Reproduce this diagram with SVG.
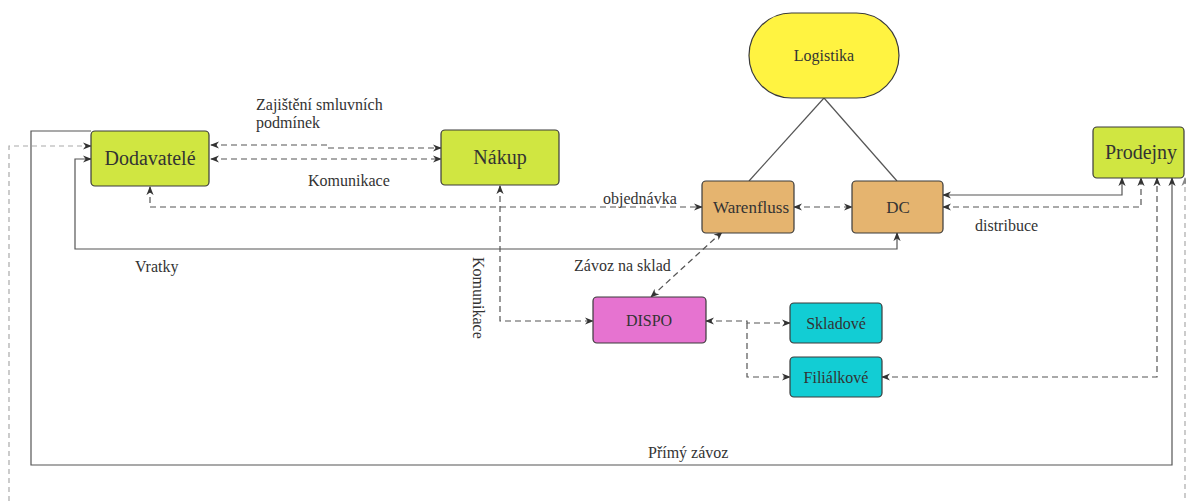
<svg xmlns="http://www.w3.org/2000/svg" width="1186" height="502" viewBox="0 0 1186 502">
<style>
.n{stroke:#3a3a3a;stroke-width:1.2}
.t{font-family:"Liberation Serif","Times New Roman",serif;fill:#333;text-anchor:middle}
.lbl{font-family:"Liberation Serif","Times New Roman",serif;fill:#333;font-size:16px}
.s{fill:none;stroke:#555;stroke-width:1.2}
.d{fill:none;stroke:#555;stroke-width:1.2;stroke-dasharray:6 4}
.l{fill:none;stroke:#aaa;stroke-width:1.2;stroke-dasharray:5 4}
</style>
<defs>
<marker id="a" viewBox="0 0 10 10" refX="9" refY="5" markerWidth="9" markerHeight="9" markerUnits="userSpaceOnUse" orient="auto-start-reverse">
<path d="M0,1 L10,5 L0,9 L3,5 z" fill="#333"/>
</marker>
<marker id="al" viewBox="0 0 10 10" refX="9" refY="5" markerWidth="9" markerHeight="9" markerUnits="userSpaceOnUse" orient="auto-start-reverse">
<path d="M0,1 L10,5 L0,9 L3,5 z" fill="#888"/>
</marker>
</defs>
<g id="connectors">
<path class="s" d="M824,98 L749,181"/>
<path class="s" d="M824,98 L897,181"/>
<path class="d" d="M211,145 L327,145 L327,148 L441,148" marker-start="url(#a)" marker-end="url(#a)"/>
<path class="d" d="M211,159 L441,159" marker-start="url(#a)" marker-end="url(#a)"/>
<path class="d" d="M150,187 L150,207 L702,207" marker-start="url(#a)" marker-end="url(#a)"/>
<path class="d" d="M794,207 L852,207" marker-start="url(#a)" marker-end="url(#a)"/>
<path class="s" d="M897,233 L897,249 L75,249 L75,159 L91,159" marker-start="url(#a)" marker-end="url(#a)"/>
<path class="s" d="M91,131 L31,131 L31,465 L1172,465 L1172,178" marker-end="url(#a)"/>
<path class="l" d="M1185,178 L1185,530 L9,530 L9,146 L91,146" marker-start="url(#al)" marker-end="url(#a)"/>
<path class="d" d="M500,186 L500,321 L593,321" marker-start="url(#a)" marker-end="url(#a)"/>
<path class="d" d="M722,232 L651,297" marker-start="url(#a)" marker-end="url(#a)"/>
<path class="d" d="M706,321 L747,321 L747,323 L790,323" marker-start="url(#a)" marker-end="url(#a)"/>
<path class="d" d="M747,323 L747,377 L790,377" marker-end="url(#a)"/>
<path class="d" d="M882,377 L1157,377 L1157,178" marker-start="url(#a)" marker-end="url(#a)"/>
<path class="s" d="M943,195 L1122,195 L1122,178" marker-start="url(#a)" marker-end="url(#a)"/>
<path class="d" d="M943,207 L1141,207 L1141,178" marker-start="url(#a)" marker-end="url(#a)"/>
</g>
<g id="labels">
<text class="lbl" x="256" y="110">Zajištění smluvních</text>
<text class="lbl" x="256" y="128">podmínek</text>
<text class="lbl" x="308" y="186">Komunikace</text>
<text class="lbl" x="135" y="272">Vratky</text>
<text class="lbl" x="603" y="204">objednávka</text>
<text class="lbl" x="574" y="271">Závoz na sklad</text>
<text class="lbl" x="975" y="231">distribuce</text>
<text class="lbl" x="648" y="458">Přímý závoz</text>
<text class="lbl" transform="translate(473,257) rotate(90)">Komunikace</text>
</g>
<g id="dodavatele"><rect class="n" x="91" y="131" width="118" height="55" rx="4" fill="#d0e641"/><text class="t" x="150" y="165" font-size="20">Dodavatelé</text></g>
<g id="nakup"><rect class="n" x="441" y="130" width="118" height="55" rx="4" fill="#d0e641"/><text class="t" x="500" y="164" font-size="20">Nákup</text></g>
<g id="logistika"><rect class="n" x="749" y="13" width="150" height="85" rx="42.5" fill="#fff341"/><text class="t" x="824" y="61" font-size="16">Logistika</text></g>
<g id="warenfluss"><rect class="n" x="702" y="181" width="92" height="52" rx="4" fill="#e5b46f"/><text class="t" x="751" y="213" font-size="17">Warenfluss</text></g>
<g id="dc"><rect class="n" x="852" y="181" width="91" height="52" rx="4" fill="#e5b46f"/><text class="t" x="898" y="213" font-size="17">DC</text></g>
<g id="prodejny"><rect class="n" x="1093" y="127" width="91" height="51" rx="4" fill="#d0e641"/><text class="t" x="1141" y="159" font-size="20">Prodejny</text></g>
<g id="dispo"><rect class="n" x="593" y="297" width="113" height="46" rx="4" fill="#e673d0"/><text class="t" x="649" y="326" font-size="16">DISPO</text></g>
<g id="skladove"><rect class="n" x="790" y="303" width="92" height="40" rx="4" fill="#12cdd4"/><text class="t" x="836" y="329" font-size="16">Skladové</text></g>
<g id="filialkove"><rect class="n" x="790" y="357" width="92" height="40" rx="4" fill="#12cdd4"/><text class="t" x="836" y="383" font-size="16">Filiálkové</text></g>
</svg>
